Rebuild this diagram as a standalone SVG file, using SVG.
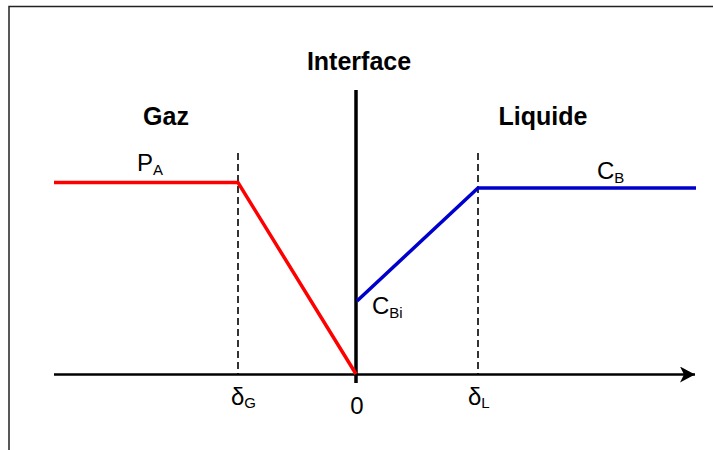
<svg xmlns="http://www.w3.org/2000/svg" width="713" height="450" viewBox="0 0 713 450">
<style>
text{font-family:"Liberation Sans",Arial,sans-serif;fill:#000}
.t{font-weight:bold;font-size:25px}
.l{font-size:24px}
.s{font-size:15px}
.dash{stroke:#000;stroke-width:1.6;stroke-dasharray:7,4;fill:none}
</style>
<defs>
<marker id="arr" markerWidth="16" markerHeight="16" refX="15" refY="8" orient="auto" markerUnits="userSpaceOnUse">
<path d="M0,0 L15,8 L0,16 L4,8 Z" fill="#000"/>
</marker>
</defs>
<rect width="713" height="450" fill="#fff"/>
<path d="M9,450 V6.5 H713" fill="none" stroke="#222" stroke-width="1.5"/>
<g id="connectors">
<line x1="54" y1="374.5" x2="695" y2="374.5" stroke="#000" stroke-width="2.5" marker-end="url(#arr)"/>
<line x1="356" y1="90" x2="356" y2="383" stroke="#000" stroke-width="3.5"/>
<line class="dash" x1="238" y1="153" x2="238" y2="374"/>
<line class="dash" x1="478" y1="153" x2="478" y2="374"/>
<polyline points="54,182.5 238,182.5 356,374" fill="none" stroke="#f00" stroke-width="3.5"/>
<polyline points="357,301 478,188 696,188" fill="none" stroke="#0000cc" stroke-width="3.5"/>
</g>
<g id="interface"><text class="t" x="359" y="70" text-anchor="middle">Interface</text></g>
<g id="gaz"><text class="t" x="166" y="125" text-anchor="middle">Gaz</text></g>
<g id="liquide"><text class="t" x="543" y="125" text-anchor="middle">Liquide</text></g>
<g id="pa"><text class="l" x="137" y="171">P<tspan class="s" dy="4">A</tspan></text></g>
<g id="cb"><text class="l" x="597" y="179">C<tspan class="s" dy="4">B</tspan></text></g>
<g id="cbi"><text class="l" x="372" y="314">C<tspan class="s" dy="4">Bi</tspan></text></g>
<g id="dg"><text class="l" x="231" y="405">δ<tspan class="s" dy="3">G</tspan></text></g>
<g id="zero"><text class="l" x="357" y="414" text-anchor="middle">0</text></g>
<g id="dl"><text class="l" x="468" y="405">δ<tspan class="s" dy="3">L</tspan></text></g>
</svg>
